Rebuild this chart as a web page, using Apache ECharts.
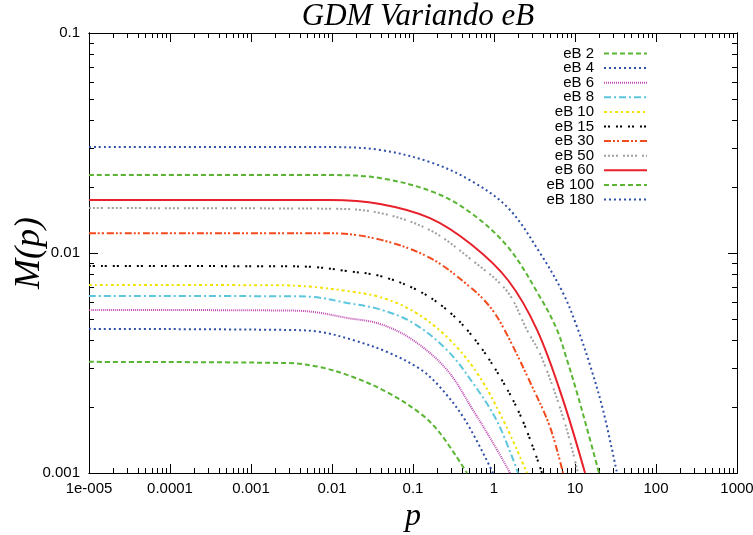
<!DOCTYPE html>
<html>
<head>
    <meta charset="utf-8">
    <title>GDM Variando eB</title>
    <script src="https://cdn.jsdelivr.net/npm/echarts@6/dist/echarts.min.js"></script>
</head>
<style>
    body { margin: 0; background: #fff; }
</style>
<body>
    <div id="main" style="width: 753px;height:535px;"></div>
    <script type="text/javascript">
        // curves: [p, M(p)]
        var eB2 = [[1e-5, 0.0032], [0.00278, 0.00316], [0.00711, 0.00303], [0.0182, 0.00273], [0.0478, 0.00233], [0.122, 0.00187], [0.215, 0.00152], [0.464, 0.001]];
        var eB4 = [[1e-5, 0.00452], [0.00278, 0.00447], [0.00711, 0.00438], [0.0182, 0.00402], [0.0478, 0.00355], [0.122, 0.00297], [0.215, 0.00246], [0.44, 0.00174], [0.972, 0.001]];
        var eB6 = [[1e-5, 0.00551], [0.0025, 0.00548], [0.00582, 0.0054], [0.0153, 0.00507], [0.0392, 0.00476], [0.1, 0.00402], [0.263, 0.00294], [0.551, 0.00193], [0.972, 0.00137], [1.58, 0.001]];
        var eB8 = [[1e-5, 0.00638], [0.0025, 0.00636], [0.00582, 0.00631], [0.0153, 0.00593], [0.0392, 0.00554], [0.1, 0.00481], [0.263, 0.00362], [0.551, 0.00256], [1.1, 0.00171], [1.98, 0.001]];
        var eB10 = [[1e-5, 0.00716], [0.0025, 0.00713], [0.00582, 0.00701], [0.0153, 0.00672], [0.0392, 0.0063], [0.1, 0.00545], [0.263, 0.00415], [0.617, 0.00285], [1.3, 0.00174], [2.55, 0.001]];
        var eB15 = [[1e-5, 0.00873], [0.0025, 0.0087], [0.00582, 0.00864], [0.0153, 0.00828], [0.0392, 0.00786], [0.112, 0.00679], [0.263, 0.00551], [0.551, 0.00415], [1.19, 0.00273], [2.2, 0.00177], [3.92, 0.001]];
        var eB30 = [[1e-5, 0.0123], [0.00944, 0.0123], [0.0392, 0.0115], [0.162, 0.0095], [0.506, 0.00701], [0.893, 0.00569], [1.35, 0.00447], [2.9, 0.00251], [4.91, 0.00162], [7.11, 0.001]];
        var eB50 = [[1e-5, 0.016], [0.00944, 0.0159], [0.0392, 0.0152], [0.162, 0.0127], [0.53, 0.0093], [1.45, 0.0067], [2.55, 0.00447], [3.85, 0.00337], [7.31, 0.00174], [10.9, 0.001]];
        var eB60 = [[1e-5, 0.0174], [0.00944, 0.0174], [0.0392, 0.0167], [0.162, 0.0144], [0.53, 0.0109], [1.5, 0.0075], [3.4, 0.00447], [7.11, 0.00215], [13.3, 0.001]];
        var eB100 = [[1e-5, 0.0226], [0.00944, 0.0226], [0.0392, 0.0219], [0.18, 0.0189], [0.52, 0.0152], [1.5, 0.0106], [3.8, 0.0062], [6.0, 0.00447], [7.96, 0.00327], [10.6, 0.00231], [13.7, 0.00165], [19.8, 0.001]];
        var eB180 = [[1e-5, 0.0303], [0.00944, 0.0303], [0.0392, 0.0294], [0.162, 0.0259], [0.52, 0.0213], [1.5, 0.016], [3.7, 0.01], [7.11, 0.00658], [10.6, 0.00461], [15.3, 0.0031], [22.2, 0.00193], [33, 0.001]];

        var seriesNames = ['eB 2', 'eB 4', 'eB 6', 'eB 8', 'eB 10', 'eB 15', 'eB 30', 'eB 50', 'eB 60', 'eB 100', 'eB 180'];
        var seriesData = [eB2, eB4, eB6, eB8, eB10, eB15, eB30, eB50, eB60, eB100, eB180];

        var xTicks = [1e-5, 1e-4, 1e-3, 1e-2, 1e-1, 1, 10, 100, 1000];
        var xTickLabels = ['1e-005', '0.0001', '0.001', '0.01', '0.1', '1', '10', '100', '1000'];
        var yTicks = [0.001, 0.01, 0.1];
        var yTickLabels = ['0.001', '0.01', '0.1'];

        // gnuplot style line types
        var styles = [
            { color: '#5ab534', type: [5, 3] },
            { color: '#2f4fa8', type: [2, 3] },
            { color: '#c04cb0', type: [1, 1] },
            { color: '#5cc6dc', type: [7, 3, 2, 3] },
            { color: '#f2e200', type: [3, 3, 2, 3] },
            { color: '#000000', type: [2, 2, 2, 6] },
            { color: '#f24a1c', type: [7, 2, 2, 2, 2, 3] },
            { color: '#a0a0a0', type: [2, 2, 2, 2, 2, 2, 2, 5] },
            { color: '#e8202a', type: 'solid' },
            { color: '#5ab534', type: [5, 3] },
            { color: '#2f4fa8', type: [2, 3] }
        ];

        function minorTicks(lo, hi) {
            var out = [];
            for (var d = lo; d < hi; d++) {
                for (var k = 2; k <= 9; k++) {
                    out.push(+(k * Math.pow(10, d)).toPrecision(3));
                }
            }
            return out;
        }
        var xMinor = minorTicks(-5, 3);
        var yMinor = minorTicks(-3, -1);

        var font = 'Liberation Sans, Arial, sans-serif';
        var serif = 'Liberation Serif, Times New Roman, serif';

        function xAx(pos, ticks, len, labels) {
            return {
                type: 'log', logBase: 10, min: 1e-5, max: 1000, position: pos,
                axisLine: { show: true, onZero: false, lineStyle: { color: '#000', width: 1 } },
                axisTick: { show: true, inside: true, length: len, customValues: ticks, lineStyle: { color: '#000' } },
                axisLabel: labels ? {
                    show: true, customValues: xTicks, margin: 8, color: '#000', fontSize: 15, fontFamily: font,
                    formatter: function (v) { return xTickLabels[Math.round(Math.log10(v)) + 5]; }
                } : { show: false },
                splitLine: { show: false },
                name: labels ? 'p' : '', nameLocation: 'middle', nameGap: 28,
                nameTextStyle: { fontFamily: serif, fontStyle: 'italic', fontSize: 32, color: '#000' }
            };
        }
        function yAx(pos, ticks, len, labels) {
            return {
                type: 'log', logBase: 10, min: 0.001, max: 0.1, position: pos,
                axisLine: { show: true, onZero: false, lineStyle: { color: '#000', width: 1 } },
                axisTick: { show: true, inside: true, length: len, customValues: ticks, lineStyle: { color: '#000' } },
                axisLabel: labels ? {
                    show: true, customValues: yTicks, margin: 9, color: '#000', fontSize: 15, fontFamily: font,
                    formatter: function (v) { return yTickLabels[Math.round(Math.log10(v)) + 3]; }
                } : { show: false },
                splitLine: { show: false },
                name: labels ? 'M(p)' : '', nameLocation: 'middle', nameGap: 41, nameRotate: 90,
                nameMoveOverlap: false,
                nameTextStyle: { fontFamily: serif, fontStyle: 'italic', fontSize: 36, color: '#000' }
            };
        }

        var myChart = echarts.init(document.getElementById('main'));

        var series = seriesData.map(function (d, i) {
            return {
                name: seriesNames[i],
                type: 'line',
                data: d,
                xAxisIndex: 0,
                yAxisIndex: 0,
                showSymbol: false,
                symbol: 'none',
                smooth: 0.35,
                clip: true,
                color: styles[i].color,
                lineStyle: { color: styles[i].color, width: 2, type: styles[i].type },
                emphasis: { disabled: true }
            };
        });

        var option = {
            animation: false,
            title: {
                text: 'GDM Variando eB',
                left: 413, top: -4, textAlign: 'center',
                textStyle: { fontFamily: serif, fontStyle: 'italic', fontWeight: 'normal', fontSize: 31, color: '#000' }
            },
            legend: {
                orient: 'vertical',
                right: 100, top: 41,
                align: 'right',
                itemWidth: 43, itemHeight: 14, itemGap: -0.4,
                itemStyle: { opacity: 0 },
                textStyle: { fontFamily: font, fontSize: 15, lineHeight: 14, color: '#000', padding: [0, 5, 0, 0] },
                data: seriesNames
            },
            grid: { left: 89, right: 16, top: 33, bottom: 62, containLabel: false, outerBoundsMode: 'none' },
            xAxis: [
                xAx('bottom', xTicks, 9, true),
                xAx('bottom', xMinor, 5, false),
                xAx('top', xTicks, 9, false),
                xAx('top', xMinor, 5, false)
            ],
            yAxis: [
                yAx('left', yTicks, 9, true),
                yAx('left', yMinor, 5, false),
                yAx('right', yTicks, 9, false),
                yAx('right', yMinor, 5, false)
            ],
            series: series
        };
        myChart.setOption(option);
    </script>
</body>
</html>
